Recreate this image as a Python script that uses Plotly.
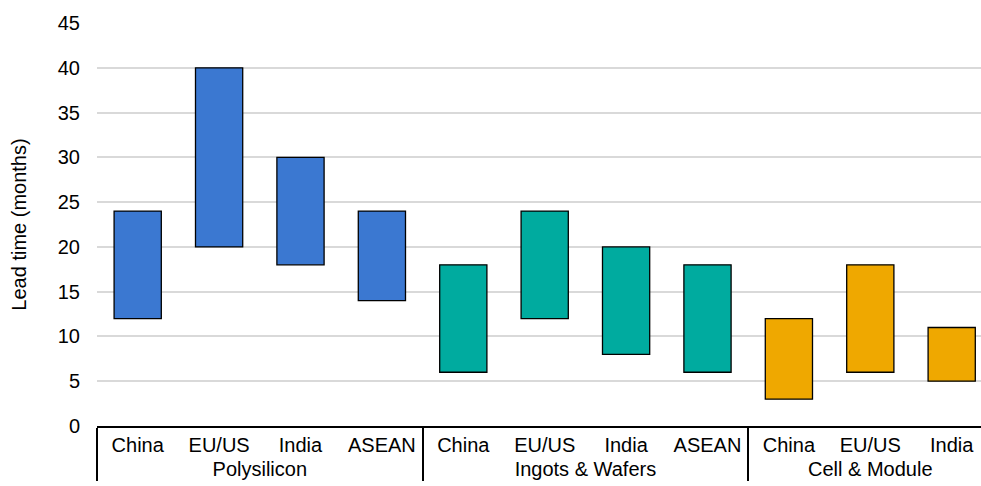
import plotly.graph_objects as go

groups = ["Polysilicon", "Ingots & Wafers", "Cell & Module"]
regions = [["China", "EU/US", "India", "ASEAN"],
           ["China", "EU/US", "India", "ASEAN"],
           ["China", "EU/US", "India"]]
low = [[12, 20, 18, 14],
       [6, 12, 8, 6],
       [3, 6, 5]]
high = [[24, 40, 30, 24],
        [18, 24, 20, 18],
        [12, 18, 11]]
colors = ["#3B78D1", "#00AB9F", "#EFA800"]

font = "Liberation Sans, Arial, sans-serif"
fs = 20
fig = go.Figure()
for g, regs, lo, hi, c in zip(groups, regions, low, high, colors):
    fig.add_trace(go.Bar(
        x=[[g] * len(regs), regs],
        y=[h - l for h, l in zip(hi, lo)],
        base=lo,
        width=0.58,
        marker=dict(color=c, line=dict(color="black", width=1.3)),
        showlegend=False,
    ))

fig.update_layout(
    width=981, height=486,
    margin=dict(l=97, r=0, t=23, b=60, autoexpand=False),
    paper_bgcolor="white", plot_bgcolor="white",
    barmode="overlay",
    font=dict(family=font, size=fs, color="black"),
)
fig.update_xaxes(
    type="multicategory",
    range=[-0.5, 10.36],
    automargin=False,
    showline=True, linecolor="black", linewidth=1.5,
    showdividers=True, dividercolor="black", dividerwidth=1.5,
    tickfont=dict(size=fs, color="black"),
    showgrid=False,
)
fig.update_yaxes(
    range=[0, 45], dtick=5,
    automargin=False,
    showgrid=True, gridcolor="#D9D9D9", gridwidth=1.5,
    zeroline=False,
    tickfont=dict(size=fs, color="black"),
    ticklabelstandoff=16,
    title=dict(text="Lead time (months)", font=dict(size=fs, color="black"), standoff=25),
)
fig.write_html(
    "out.html",
    config={"displayModeBar": False},
    post_script="document.body.style.margin='0';document.body.style.overflow='hidden';",
)
